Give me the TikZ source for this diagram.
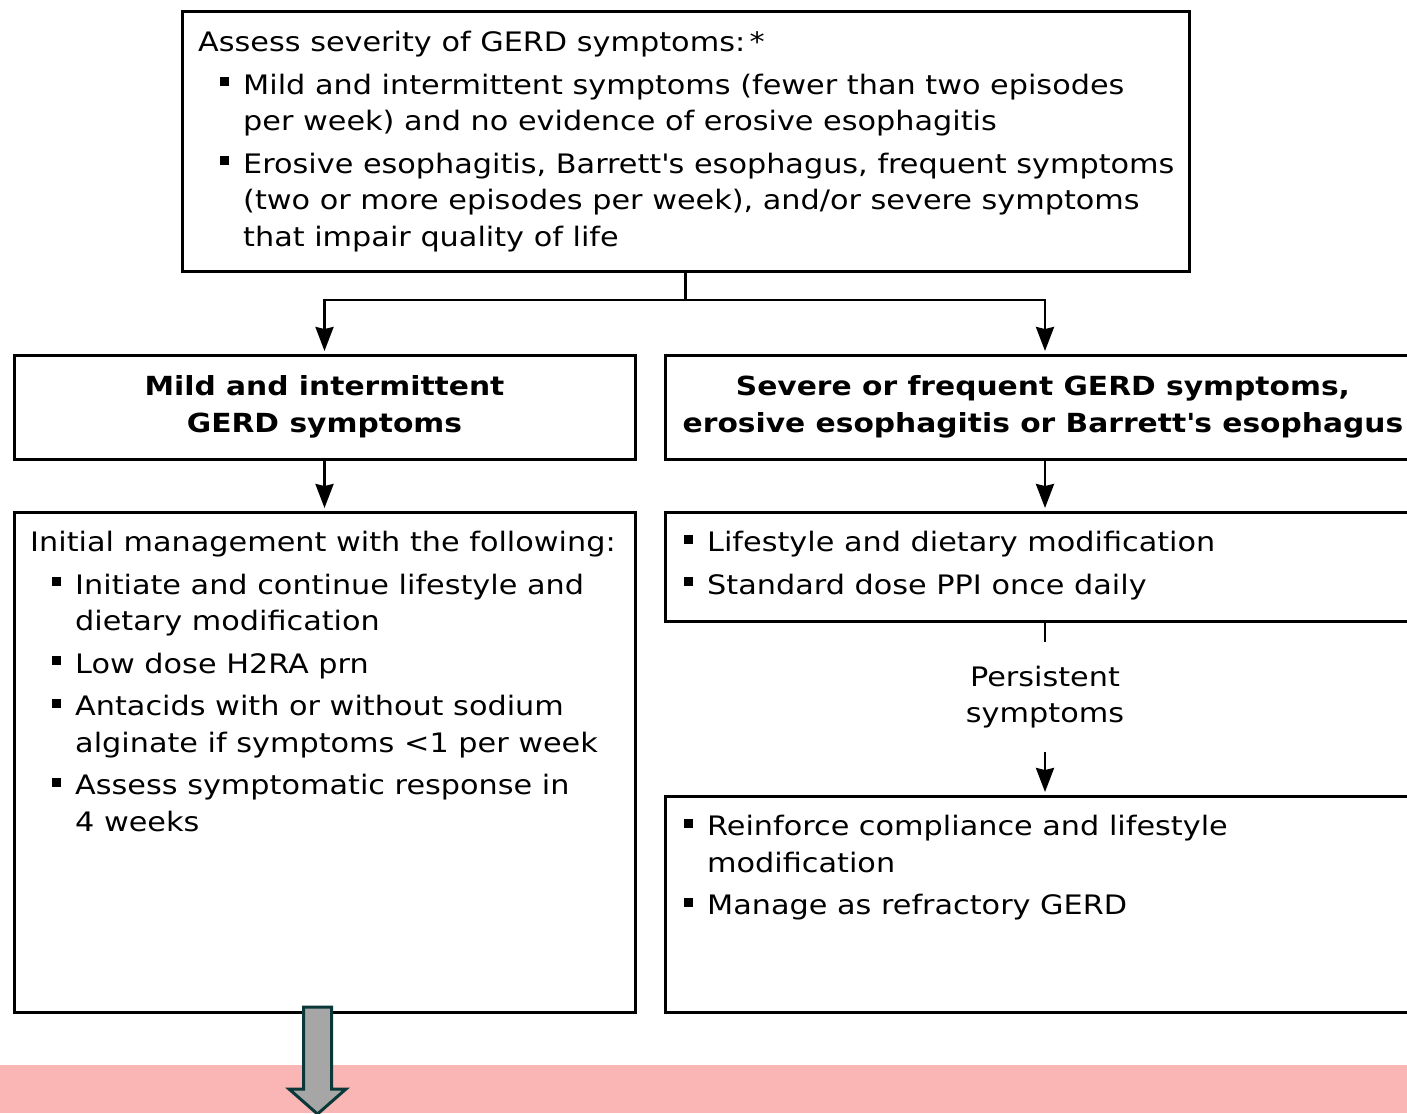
\documentclass[tikz,border=0pt]{standalone}
\usepackage{fontspec}
\setmainfont[FakeStretch=1.13]{DejaVu Sans}
\usetikzlibrary{arrows.meta}
\definecolor{bandpink}{HTML}{F9B6B4}
\definecolor{arrowgray}{HTML}{A6A6A6}
\definecolor{arrowedge}{HTML}{0A3838}
\newcommand{\bul}{\makebox[23pt][l]{\rule[8pt]{9pt}{9pt}}}
\newcommand{\ind}{\hspace*{23pt}}
\newcommand{\apos}{\textquotesingle}
\tikzset{
  box/.style={draw=black, line width=3pt, rectangle, inner sep=0pt, outer sep=0pt, anchor=north west},
  txt/.style={inner sep=0pt, anchor=north west, align=left, font=\fontsize{26.8}{36.5}\selectfont},
  head/.style={inner sep=0pt, align=center, font=\fontsize{26.3}{37}\selectfont\bfseries},
  conn/.style={line width=2.6pt, draw=black},
  arr/.style={conn, -{Stealth[length=24pt,width=18pt,inset=2pt]}, shorten >=4pt},
}
\begin{document}
\begin{tikzpicture}[x=1pt,y=-1pt]
\clip (0,0) rectangle (1407,1113);
\fill[white] (0,0) rectangle (1407,1113);
% boxes
\node[box, minimum width=1007pt, minimum height=259pt] (top) at (182,12) {};
\node[box, minimum width=621pt, minimum height=104pt] (left2) at (14,355) {};
\node[box, minimum width=760pt, minimum height=104pt] (right2) at (665,355) {};
\node[box, minimum width=621pt, minimum height=500pt] (left3) at (14,512) {};
\node[box, minimum width=760pt, minimum height=109pt] (right3) at (665,512) {};
\node[box, minimum width=760pt, minimum height=216pt] (right4) at (665,796) {};
% texts
\node[txt] (toptxt) at (198,31) {Assess severity of GERD symptoms:\,*\\[6pt]
\hspace*{22pt}\bul Mild and intermittent symptoms (fewer than two episodes\\
\hspace*{22pt}\ind per week) and no evidence of erosive esophagitis\\[6pt]
\hspace*{22pt}\bul Erosive esophagitis, Barrett\apos s esophagus, frequent symptoms\\
\hspace*{22pt}\ind (two or more episodes per week), and/or severe symptoms\\
\hspace*{22pt}\ind that impair quality of life};
\node[head] (left2txt) at (324.5,407) {Mild and intermittent\\GERD symptoms};
\node[head] (right2txt) at (1043,407) {Severe or frequent GERD symptoms,\\erosive esophagitis or Barrett\apos s esophagus};
\node[txt] (left3txt) at (30,531) {Initial management with the following:\\[6pt]
\hspace*{22pt}\bul Initiate and continue lifestyle and\\
\hspace*{22pt}\ind dietary modification\\[6pt]
\hspace*{22pt}\bul Low dose H2RA prn\\[6pt]
\hspace*{22pt}\bul Antacids with or without sodium\\
\hspace*{22pt}\ind alginate if symptoms <1 per week\\[6pt]
\hspace*{22pt}\bul Assess symptomatic response in\\
\hspace*{22pt}\ind 4 weeks};
\node[txt] (right3txt) at (684,531) {\bul Lifestyle and dietary modification\\[6pt]
\bul Standard dose PPI once daily};
\node[txt] (right4txt) at (684,815) {\bul Reinforce compliance and lifestyle\\
\ind modification\\[6pt]
\bul Manage as refractory GERD};
\node[inner sep=0pt, minimum height=109pt, align=center, font=\fontsize{26.8}{36}\selectfont] (persist) at (1045,697) {Persistent\\symptoms};
% connectors
\draw[conn] (top.south) -- ++(0,29) coordinate (split);
\draw[arr] (split) -| (left2.north);
\draw[arr] (split) -| (right2.north);
\draw[arr] (left2.south) -- (left3.north);
\draw[arr] (right2.south) -- (right3.north);
\draw[conn] (right3.south) -- (right3.south |- persist.north);
\draw[arr] (persist.south -| right4.north) -- (right4.north);
% pink band
\node[fill=bandpink, inner sep=0pt, minimum width=1407pt, minimum height=48pt, anchor=north west] (band) at (0,1065) {};
% big arrow
\coordinate (bigtop) at (317.5,1007);
\draw[line width=3pt, draw=arrowedge, fill=arrowgray, line join=miter]
  (303.5,1007) -- (331.5,1007) -- (331.5,1089) -- (346,1089) -- (317.5,1114)
  -- (289,1089) -- (303.5,1089) -- cycle;
\end{tikzpicture}
\end{document}
